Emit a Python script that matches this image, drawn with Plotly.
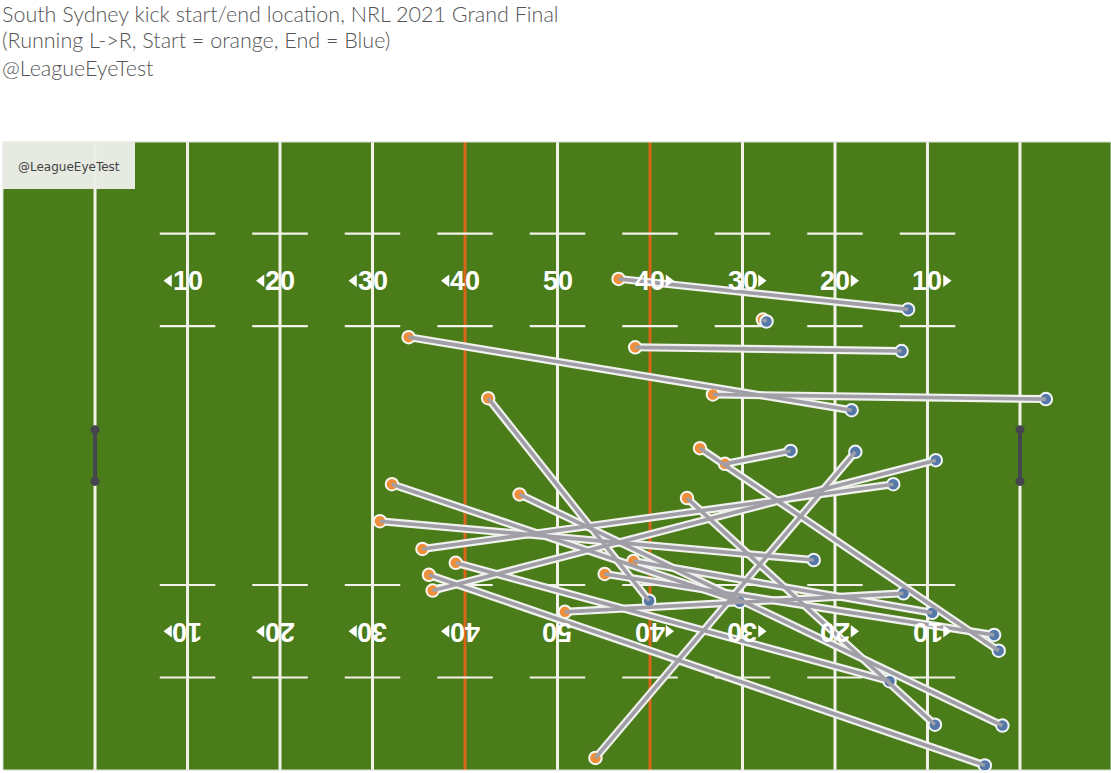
import plotly.graph_objects as go

# Kick locations in field metres (x: 0-100 try line to try line, y: 0-68 touchline to touchline)
start_x = [56.6, 72.2, 58.4, 33.9, 66.8, 42.5, 65.4, 68.1, 54.1, 32.1, 45.9, 64.0, 30.8, 35.4, 36.5, 39.0, 58.2, 55.1, 36.1, 50.8]
start_y = [53.1, 48.7, 45.7, 46.8, 40.6, 40.2, 34.8, 33.1, 1.3, 30.9, 29.8, 29.4, 26.9, 23.9, 19.4, 22.4, 22.6, 21.2, 21.1, 17.1]
end_x = [87.9, 72.6, 87.2, 81.8, 102.8, 59.9, 97.7, 75.2, 82.2, 69.7, 98.1, 90.8, 77.7, 86.3, 90.9, 85.9, 90.5, 97.2, 96.2, 87.4]
end_y = [49.8, 48.5, 45.3, 38.9, 40.1, 18.3, 12.9, 34.5, 34.4, 18.2, 4.8, 4.9, 22.7, 30.9, 33.5, 9.6, 17.0, 14.6, 0.5, 19.1]

white_lines = [0, 10, 20, 30, 50, 70, 80, 90, 100]
orange_lines = [40, 60]
hash_x = [10, 20, 30, 40, 50, 60, 70, 80, 90]
hash_y = [58, 48, 20, 10]
hash_half = 3
label_x = [10, 20, 30, 40, 50, 60, 70, 80, 90]
label_text = ["10", "20", "30", "40", "50", "40", "30", "20", "10"]
label_y_top = 52.9
label_y_bottom = 15.0
arrow_left_x = [8, 18, 28, 38]
arrow_right_x = [62, 72, 82, 92]
post_x = [0, 100]
post_y = [31.2, 36.8]

title_lines = [
    "South Sydney kick start/end location, NRL 2021 Grand Final",
    "(Running L->R, Start = orange, End = Blue)",
    "@LeagueEyeTest",
]
title_px = [14, 40, 68]

FIELD = "#4a7c19"
LINE = "#f2f2ea"
ORANGE_LINE = "#d9651a"
ORANGE = "#ef8f3b"
BLUE = "#5479a8"
GREY = "#a09ea6"

TOP, BOTTOM, LEFT = 142, 770, 3

fig = go.Figure()

# halos, one per kick
for sx, sy, ex, ey in zip(start_x, start_y, end_x, end_y):
    fig.add_trace(go.Scatter(x=[sx, ex], y=[sy, ey], mode="lines",
                             line=dict(color="#f1f1ee", width=8), hoverinfo="skip"))

fig.add_trace(go.Scatter(x=start_x, y=start_y, mode="markers",
                         marker=dict(size=12.5, color=ORANGE, line=dict(color="#f7f7f2", width=2)),
                         hoverinfo="skip"))
fig.add_trace(go.Scatter(x=end_x, y=end_y, mode="markers",
                         marker=dict(size=12.5, color=BLUE, line=dict(color="#f1f5f5", width=2)),
                         hoverinfo="skip"))

# grey cores, running into the marker centres
for sx, sy, ex, ey in zip(start_x, start_y, end_x, end_y):
    fig.add_trace(go.Scatter(x=[sx, ex], y=[sy, ey], mode="lines",
                             line=dict(color=GREY, width=3.6), hoverinfo="skip"))

# direction arrows beside the field numbers
for row_y in (label_y_top, label_y_bottom):
    fig.add_trace(go.Scatter(x=arrow_left_x, y=[row_y] * len(arrow_left_x), mode="markers",
                             marker=dict(symbol="triangle-left", size=11, color="white", line=dict(width=0)),
                             hoverinfo="skip"))
    fig.add_trace(go.Scatter(x=arrow_right_x, y=[row_y] * len(arrow_right_x), mode="markers",
                             marker=dict(symbol="triangle-right", size=11, color="white", line=dict(width=0)),
                             hoverinfo="skip"))

# goal posts
for px in post_x:
    fig.add_trace(go.Scatter(x=[px, px], y=post_y, mode="lines+markers",
                             line=dict(color="#454550", width=4),
                             marker=dict(size=9, color="#454550"), hoverinfo="skip"))

shapes = []
for x in white_lines:
    shapes.append(dict(type="line", layer="below", x0=x, x1=x, yref="paper", y0=0, y1=1,
                       line=dict(color=LINE, width=3)))
for x in orange_lines:
    shapes.append(dict(type="line", layer="below", x0=x, x1=x, yref="paper", y0=0, y1=1,
                       line=dict(color=ORANGE_LINE, width=3)))
for hx in hash_x:
    for hy in hash_y:
        shapes.append(dict(type="line", layer="below", x0=hx - hash_half, x1=hx + hash_half, y0=hy, y1=hy,
                           line=dict(color=LINE, width=2.2)))
shapes.append(dict(type="rect", layer="above", xref="paper", yref="paper", x0=0, x1=132 / 1108,
                   y0=1 - 47 / 628, y1=1, fillcolor="rgba(236,238,232,0.96)", line=dict(width=0)))
shapes.append(dict(type="rect", layer="below", xref="paper", yref="paper", x0=0, x1=1, y0=0, y1=1,
                   line=dict(color="#d8dcd0", width=1)))

annotations = []
for x, t in zip(label_x, label_text):
    for row_y, angle in ((label_y_top, 0), (label_y_bottom, 180)):
        annotations.append(dict(x=x, y=row_y, text=t, showarrow=False, textangle=angle,
                                font=dict(family="Liberation Sans", size=27, color="white", weight="bold"),
                                xanchor="center", yanchor="middle"))
annotations.append(dict(xref="paper", yref="paper", x=66 / 1108, y=1 - 25 / 628, text="@LeagueEyeTest",
                        showarrow=False, font=dict(family="DejaVu Sans", size=12, color="#444444"),
                        xanchor="center", yanchor="middle"))
for line, py in zip(title_lines, title_px):
    annotations.append(dict(xref="paper", yref="paper", x=-3 / 1108, y=(BOTTOM - py) / 628, text=line,
                            showarrow=False, font=dict(family="Lato", size=21.5, color="#555555", weight=300),
                            xanchor="left", yanchor="middle"))

fig.update_layout(
    width=1111, height=773,
    margin=dict(l=LEFT, r=0, t=TOP, b=773 - BOTTOM, pad=0),
    paper_bgcolor="white", plot_bgcolor=FIELD,
    showlegend=False, hovermode=False,
    shapes=shapes, annotations=annotations,
    xaxis=dict(range=[-9.95, 109.84], visible=False, fixedrange=True),
    yaxis=dict(range=[0, 67.9], visible=False, fixedrange=True),
)

fig.write_html("out.html", config=dict(displayModeBar=False),
               post_script="document.body.style.margin='0';document.body.style.overflow='hidden';")
